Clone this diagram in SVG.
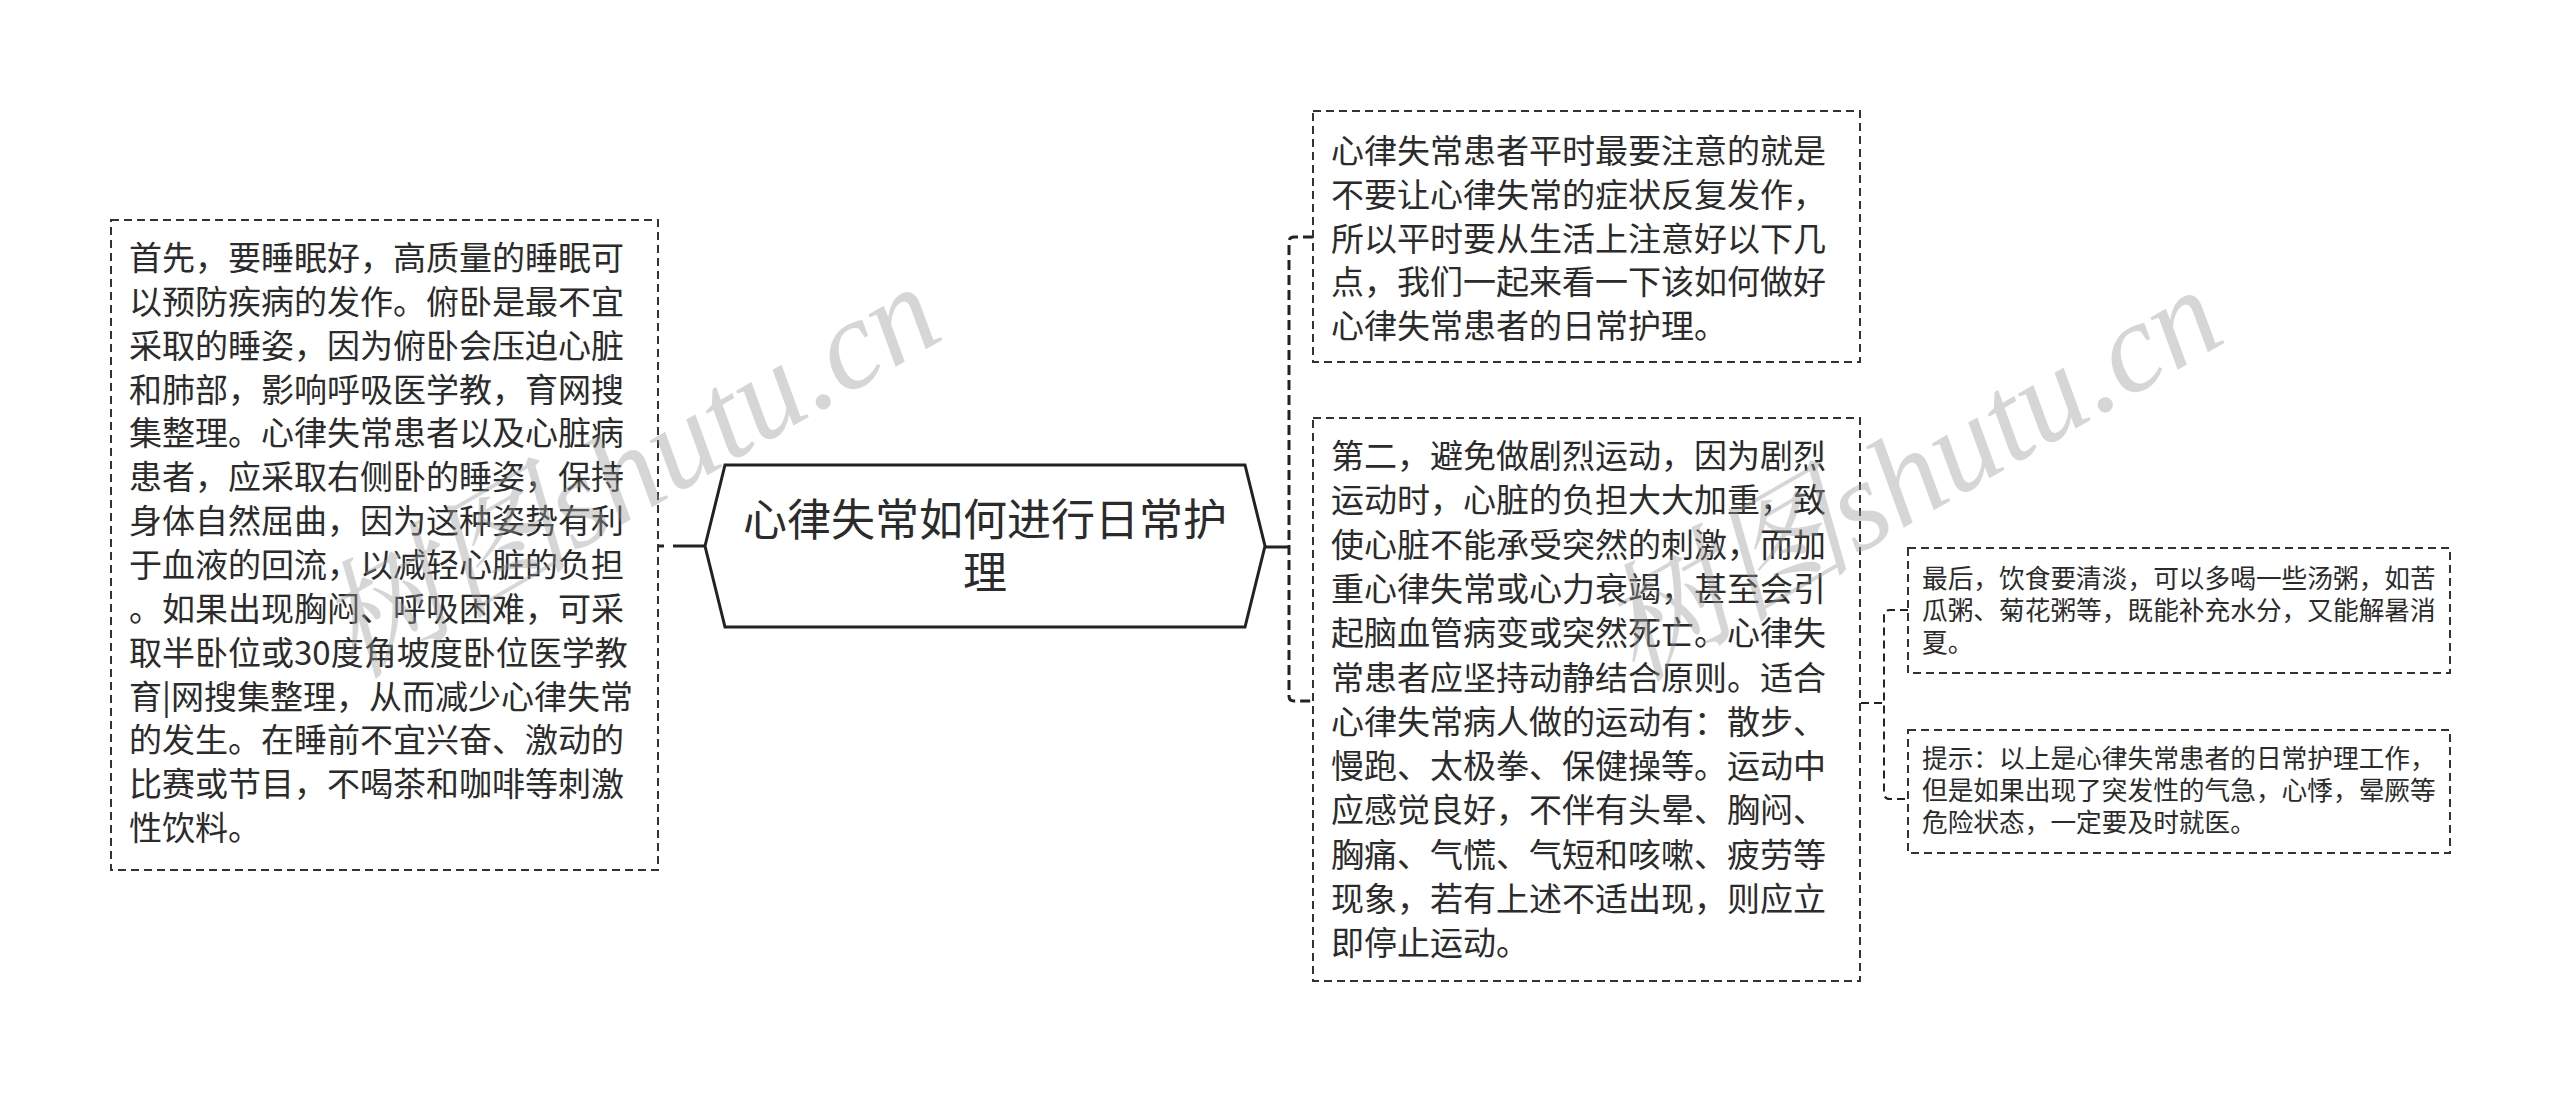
<svg xmlns="http://www.w3.org/2000/svg" width="2560" height="1093" viewBox="0 0 2560 1093">
<style>
.bg{fill:#ffffff}
.box{fill:#ffffff;stroke:#333333;stroke-width:2;stroke-dasharray:8 5}
.hex{fill:#ffffff;stroke:#222222;stroke-width:3}
.t{font-family:"Noto Sans CJK SC","Noto Sans",sans-serif;fill:#2b2b2b}
.big{font-size:33px}
.small{font-size:25.7px}
.root{font-size:44px}
.solid{fill:none;stroke:#222222;stroke-width:3}
.dash1{fill:none;stroke:#222222;stroke-width:3;stroke-dasharray:10 5}
.dash2{fill:none;stroke:#222222;stroke-width:2;stroke-dasharray:8 5}
.wm{font-family:"Liberation Serif","Noto Serif CJK SC","Noto Sans CJK SC",serif;font-style:italic;font-size:128px;fill:#9a9a9a;opacity:0.4}
</style>
<rect class="bg" x="0" y="0" width="2560" height="1093"/>

<g id="connectors">
<path class="solid" d="M705,546 H673"/>
<path class="solid" d="M658,546 H664"/>
<path class="solid" d="M1265,547 H1289"/>
<path class="dash1" d="M1313,237 H1294 Q1289,237 1289,242 V696 Q1289,701 1294,701 H1313"/>
<path class="dash2" d="M1861,703 H1884"/>
<path class="dash2" d="M1908,610 H1890 Q1884,610 1884,616 V793 Q1884,799 1890,799 H1908"/>
</g>

<g id="root">
<polygon class="hex" points="705,546 725,465 1245,465 1265,546 1245,627 725,627"/>
<text class="t root" text-anchor="middle"><tspan x="985" y="536">心律失常如何进行日常护</tspan><tspan x="985" y="589">理</tspan></text>
</g>

<g id="node-left">
<rect class="box" x="111" y="220" width="547" height="650"/>
<text class="t big">
<tspan x="129" y="270">首先，要睡眠好，高质量的睡眠可</tspan>
<tspan x="129" y="313.85">以预防疾病的发作。俯卧是最不宜</tspan>
<tspan x="129" y="357.7">采取的睡姿，因为俯卧会压迫心脏</tspan>
<tspan x="129" y="401.55">和肺部，影响呼吸医学教，育网搜</tspan>
<tspan x="129" y="445.4">集整理。心律失常患者以及心脏病</tspan>
<tspan x="129" y="489.25">患者，应采取右侧卧的睡姿，保持</tspan>
<tspan x="129" y="533.1">身体自然屈曲，因为这种姿势有利</tspan>
<tspan x="129" y="576.95">于血液的回流，以减轻心脏的负担</tspan>
<tspan x="129" y="620.8">。如果出现胸闷、呼吸困难，可采</tspan>
<tspan x="129" y="664.65">取半卧位或30度角坡度卧位医学教</tspan>
<tspan x="129" y="708.5">育|网搜集整理，从而减少心律失常</tspan>
<tspan x="129" y="752.35">的发生。在睡前不宜兴奋、激动的</tspan>
<tspan x="129" y="796.2">比赛或节目，不喝茶和咖啡等刺激</tspan>
<tspan x="129" y="840.05">性饮料。</tspan>
</text>
</g>

<g id="node-top">
<rect class="box" x="1313" y="111" width="547" height="251"/>
<text class="t big">
<tspan x="1331" y="163">心律失常患者平时最要注意的就是</tspan>
<tspan x="1331" y="206.75">不要让心律失常的症状反复发作，</tspan>
<tspan x="1331" y="250.5">所以平时要从生活上注意好以下几</tspan>
<tspan x="1331" y="294.25">点，我们一起来看一下该如何做好</tspan>
<tspan x="1331" y="338">心律失常患者的日常护理。</tspan>
</text>
</g>

<g id="node-middle">
<rect class="box" x="1313" y="418" width="547" height="563"/>
<text class="t big">
<tspan x="1331" y="468">第二，避免做剧烈运动，因为剧烈</tspan>
<tspan x="1331" y="512.3">运动时，心脏的负担大大加重，致</tspan>
<tspan x="1331" y="556.6">使心脏不能承受突然的刺激，而加</tspan>
<tspan x="1331" y="600.9">重心律失常或心力衰竭，甚至会引</tspan>
<tspan x="1331" y="645.2">起脑血管病变或突然死亡。心律失</tspan>
<tspan x="1331" y="689.5">常患者应坚持动静结合原则。适合</tspan>
<tspan x="1331" y="733.8">心律失常病人做的运动有：散步、</tspan>
<tspan x="1331" y="778.1">慢跑、太极拳、保健操等。运动中</tspan>
<tspan x="1331" y="822.4">应感觉良好，不伴有头晕、胸闷、</tspan>
<tspan x="1331" y="866.7">胸痛、气慌、气短和咳嗽、疲劳等</tspan>
<tspan x="1331" y="911">现象，若有上述不适出现，则应立</tspan>
<tspan x="1331" y="955.3">即停止运动。</tspan>
</text>
</g>

<g id="node-small-1">
<rect class="box" x="1908" y="548" width="542" height="125"/>
<text class="t small">
<tspan x="1922" y="588">最后，饮食要清淡，可以多喝一些汤粥，如苦</tspan>
<tspan x="1922" y="620">瓜粥、菊花粥等，既能补充水分，又能解暑消</tspan>
<tspan x="1922" y="652">夏。</tspan>
</text>
</g>

<g id="node-small-2">
<rect class="box" x="1908" y="730" width="542" height="123"/>
<text class="t small">
<tspan x="1922" y="768">提示：以上是心律失常患者的日常护理工作，</tspan>
<tspan x="1922" y="800">但是如果出现了突发性的气急，心悸，晕厥等</tspan>
<tspan x="1922" y="832">危险状态，一定要及时就医。</tspan>
</text>
</g>

<g id="watermarks">
<text class="wm" x="353" y="680" transform="rotate(-30 353 680)">树图shutu.cn</text>
<text class="wm" x="1635" y="683" transform="rotate(-30 1635 683)">树图shutu.cn</text>
</g>
</svg>
